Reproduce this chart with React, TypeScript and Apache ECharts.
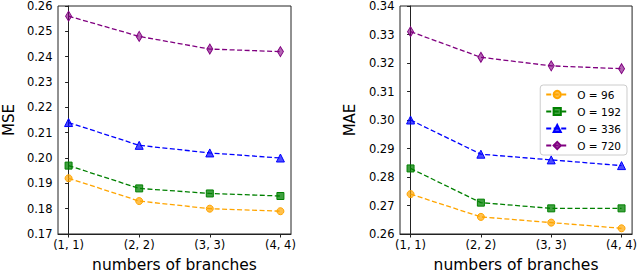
import React, { useEffect, useRef } from "react";
import * as echarts from "echarts";

const categories = ["(1, 1)", "(2, 2)", "(3, 3)", "(4, 4)"];
const seriesNames = ["O = 96", "O = 192", "O = 336", "O = 720"];
const mse96 = [0.192, 0.183, 0.18, 0.179];
const mse192 = [0.197, 0.188, 0.186, 0.185];
const mse336 = [0.214, 0.205, 0.202, 0.2];
const mse720 = [0.256, 0.248, 0.243, 0.242];
const mae96 = [0.274, 0.266, 0.264, 0.262];
const mae192 = [0.283, 0.271, 0.269, 0.269];
const mae336 = [0.3, 0.288, 0.286, 0.284];
const mae720 = [0.331, 0.322, 0.319, 0.318];

const colors = ["#FFA500", "#008000", "#0000FF", "#800080"];
const fills = ["rgba(255,165,0,0.7)", "rgba(0,128,0,0.75)", "rgba(0,0,255,0.7)", "rgba(128,0,128,0.6)"];
const symbols = ["circle", "rect", "triangle", "diamond"];
const symbolSizes: any[] = [7, 7, 8, [6, 10]];

const FONT = "DejaVu Sans";

export default function App() {
  const ref = useRef<HTMLDivElement>(null);
  useEffect(() => {
    if (!ref.current) return;
    const chart = echarts.init(ref.current, null, { renderer: "svg" });
    const mseData = [mse96, mse192, mse336, mse720];
    const maeData = [mae96, mae192, mae336, mae720];
    const mkSeries = (data: number[][], gi: number) =>
      data.map((vals, i) => ({
        name: seriesNames[i],
        type: "line",
        xAxisIndex: gi,
        yAxisIndex: gi,
        data: vals.map((v, k) => [k, v]),
        symbol: symbols[i],
        symbolSize: symbolSizes[i],
        lineStyle: { color: colors[i], width: 1.3, type: [5, 2.5] },
        itemStyle: { color: fills[i], borderColor: colors[i], borderWidth: 1 },
        z: 2 + i,
      }));
    const xAxisBase = (gi: number) => ({
      type: "value",
      gridIndex: gi,
      min: -0.15,
      max: 3.15,
      name: "numbers of branches",
      nameLocation: "middle",
      nameGap: 23,
      nameTextStyle: { fontFamily: FONT, fontSize: 15.5, color: "#000" },
      axisLine: { show: true, lineStyle: { color: "#222", width: 1 } },
      axisTick: { show: true, length: 3.5, lineStyle: { color: "#222" }, customValues: [0, 1, 2, 3] },
      axisLabel: {
        customValues: [0, 1, 2, 3],
        formatter: (v: number) => categories[Math.round(v)] ?? "",
        fontFamily: FONT,
        fontSize: 11.5,
        color: "#000",
        margin: 5,
      },
      splitLine: { show: false },
    });
    const yAxisBase = (gi: number, name: string, min: number, max: number, gap: number) => ({
      type: "value",
      gridIndex: gi,
      min,
      max,
      interval: 0.01,
      name,
      nameLocation: "middle",
      nameGap: gap,
      nameTextStyle: { fontFamily: FONT, fontSize: 15, color: "#000" },
      axisLine: { show: true, lineStyle: { color: "#222", width: 1 } },
      axisTick: { show: true, length: 3.5, lineStyle: { color: "#222" } },
      axisLabel: {
        formatter: (v: number) => v.toFixed(2),
        fontFamily: FONT,
        fontSize: 11.5,
        color: "#000",
        margin: 5.5,
      },
      splitLine: { show: false },
    });
    chart.setOption({
      animation: false,
      backgroundColor: "#fff",
      grid: [
        { left: 54, top: 5.5, width: 237, height: 234.5, show: true, borderColor: "#222", borderWidth: 1 },
        { left: 400, top: 5.5, width: 236, height: 234.5, show: true, borderColor: "#222", borderWidth: 1 },
      ],
      xAxis: [xAxisBase(0), xAxisBase(1)],
      yAxis: [yAxisBase(0, "MSE", 0.17, 0.26, 42), yAxisBase(1, "MAE", 0.26, 0.34, 43)],
      legend: {
        data: seriesNames,
        orient: "vertical",
        right: 13,
        top: 85,
        itemWidth: 22,
        itemHeight: 9,
        itemGap: 6,
        padding: [4, 6, 4, 5],
        backgroundColor: "#fff",
        borderColor: "#ccc",
        borderWidth: 1,
        borderRadius: 3,
        textStyle: { fontFamily: FONT, fontSize: 10.5, color: "#000", padding: [0, 0, 0, 4] },
      },
      series: [...mkSeries(mseData, 0), ...mkSeries(maeData, 1)],
    });
    return () => chart.dispose();
  }, []);
  return <div ref={ref} style={{ width: 640, height: 278, position: "absolute", left: 0, top: 0 }} />;
}
